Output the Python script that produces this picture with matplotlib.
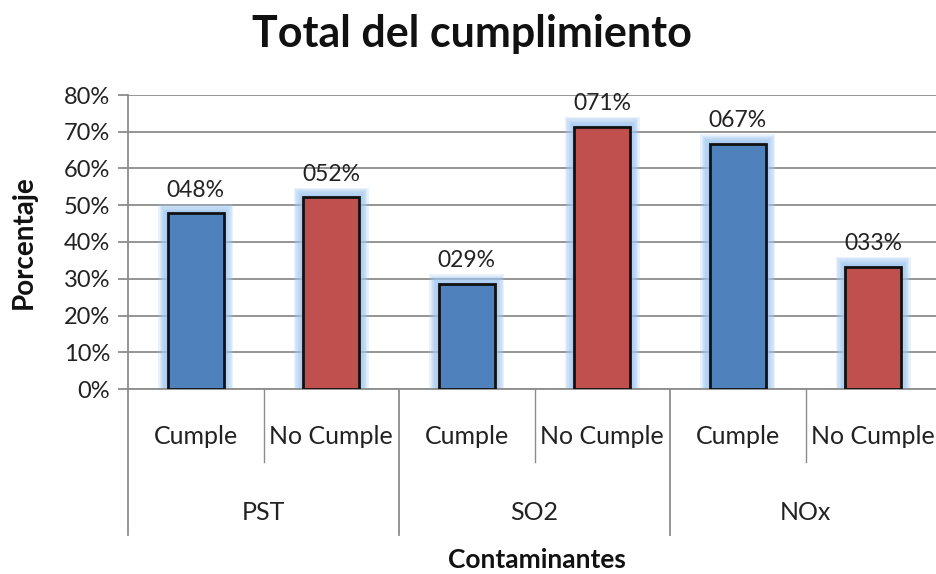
import numpy as np
import matplotlib.pyplot as plt
import matplotlib.transforms as mtransforms

plt.rcParams['font.family'] = ['Lato', 'DejaVu Sans']

# data
groups = ["PST", "SO2", "NOx"]
subcats = ["Cumple", "No Cumple"]
values = [47.8, 52.2, 28.6, 71.4, 66.7, 33.3]
labels = ["048%", "052%", "029%", "071%", "067%", "033%"]
colors = ["#4F81BD", "#C0504D"] * 3

W, H = 936, 574
fig = plt.figure(figsize=(W / 100, H / 100), dpi=100)
x0, x1, y0, y1 = 128, 941, 389, 95
ax = fig.add_axes([x0 / W, (H - y0) / H, (x1 - x0) / W, (y0 - y1) / H])

pos = np.arange(len(values)) + 0.5
bw = 0.41

# soft glow behind the bars
for k in range(8):
    f = (8 - k) / 8
    ax.bar(pos, np.array(values) + 2.6 * f, width=bw + 2 * 0.07 * f,
           color="#9FC5F0", alpha=0.22, zorder=2, linewidth=0)

ax.bar(pos, values, width=bw, color=colors, edgecolor="#111111",
       linewidth=2, zorder=3)

for p, v, t in zip(pos, values, labels):
    ax.text(p, v + 3.4, t, ha="center", va="bottom", fontsize=16.5, color="#222222")

ax.set_xlim(0, 6)
ax.set_ylim(0, 80)
ax.set_yticks(range(0, 81, 10))
ax.set_yticklabels([f"{v}%" for v in range(0, 81, 10)], fontsize=17, color="#222222")
ax.set_xticks([])
ax.yaxis.grid(True, color="#8c8c8c", linewidth=1.3)
ax.set_axisbelow(True)
for s in ["top", "right"]:
    ax.spines[s].set_visible(False)
for s in ["left", "bottom"]:
    ax.spines[s].set_color("#8c8c8c")
    ax.spines[s].set_linewidth(1.3)
ax.tick_params(axis="y", length=7, color="#8c8c8c", width=1.3, pad=6)

# multi-level category axis
trans = mtransforms.blended_transform_factory(ax.transData, fig.transFigure)
def fy(py):
    return (H - py) / H

for i, p in enumerate(pos):
    ax.text(p, fy(437), subcats[i % 2], transform=trans, ha="center", va="center",
            fontsize=18, color="#222222")
for i in range(1, 6, 2):
    ax.plot([i, i], [fy(389), fy(462)], transform=trans, color="#8c8c8c",
            lw=1, clip_on=False)
for j, g in enumerate(groups):
    ax.text(2 * j + 1, fy(512), g, transform=trans, ha="center", va="center",
            fontsize=18, color="#222222")
for j in range(4):
    ax.plot([2 * j, 2 * j], [fy(389), fy(535)], transform=trans, color="#8c8c8c",
            lw=1.3, clip_on=False)

fig.text(537 / W, fy(560), "Contaminantes", ha="center", va="center",
         fontsize=19, fontweight="bold", color="#111111")
fig.text(24 / W, fy(242), "Porcentaje", ha="center", va="center", rotation=90,
         fontsize=20, fontweight="bold", color="#111111")
fig.text(472 / W, fy(34), "Total del cumplimiento", ha="center", va="center",
         fontsize=31, fontweight="bold", color="#111111")

fig.savefig("out.png", dpi=100)
